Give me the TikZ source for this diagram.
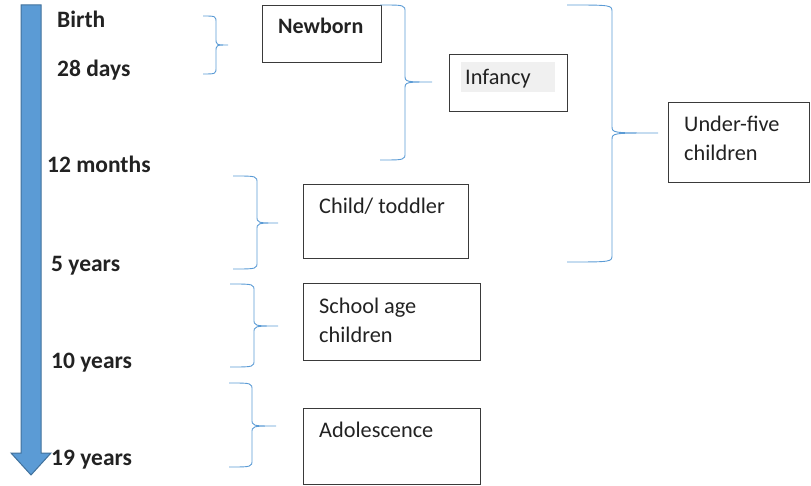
\documentclass[tikz,border=0pt]{standalone}
\usepackage{fontspec}
\setmainfont{Carlito}
\definecolor{arrowfill}{HTML}{5B9BD5}
\definecolor{arrowedge}{HTML}{41719C}
\definecolor{bracecol}{HTML}{5B9BD5}
\definecolor{inkcol}{HTML}{222222}
\definecolor{boxedge}{HTML}{3A3A3A}
\definecolor{hilite}{HTML}{F0F0F0}

% curly bracket: #1 end x, #2 spine x, #3 tip x, #4 top y, #5 tip y, #6 bottom y
\newcommand\agebrace[6]{%
  \draw[bracestyle] (#1,#4) .. controls (#2,#4) .. (#2,#4+7) -- (#2,#5-7)
    .. controls (#2,#5) .. (#3,#5)
    (#3,#5) .. controls (#2,#5) .. (#2,#5+7) -- (#2,#6-7)
    .. controls (#2,#6) .. (#1,#6);}

\begin{document}
\begin{tikzpicture}[x=1pt,y=-1pt,
  bracestyle/.style={draw=bracecol,line width=0.9pt},
  agebox/.style={draw=boxedge,line width=1pt,inner sep=0pt,anchor=north west},
  agelabel/.style={font=\fontsize{23.5}{28}\selectfont\bfseries,text=inkcol,inner sep=0pt,anchor=base west},
  boxtext/.style={font=\fontsize{22.3}{29}\selectfont,text=inkcol,inner sep=0pt,anchor=base west,align=left},
]
\useasboundingbox (0,0) rectangle (811,486);

% timeline arrow
\filldraw[fill=arrowfill,draw=arrowedge,line width=1pt]
  (21,5) -- (41,5) -- (41,453) -- (51,453) -- (31,475) -- (11,453) -- (21,453) -- cycle;

% ages along the timeline
\node[agelabel] (birth)  at (57,28)  {Birth};
\node[agelabel] (days)   at (57,77)  {28 days};
\node[agelabel] (months) at (47,173) {12 months};
\node[agelabel] (five)   at (51,272) {5 years};
\node[agelabel] (ten)    at (51,368) {10 years};
\node[agelabel] (ninet)  at (51,465) {19 years};

% stage boxes
\node[agebox,minimum width=119pt,minimum height=57pt] (newborn) at (262,5) {};
\node[agebox,minimum width=118pt,minimum height=57pt] (infancy) at (449,54) {};
\node[agebox,minimum width=141pt,minimum height=80pt] (underfive) at (668,102) {};
\node[agebox,minimum width=165pt,minimum height=74pt] (toddler) at (303,184) {};
\node[agebox,minimum width=177pt,minimum height=77pt] (school) at (303,283) {};
\node[agebox,minimum width=177pt,minimum height=76pt] (adol) at (303,408) {};

\fill[hilite] (461,62) rectangle (555,92);

\node[boxtext,font=\fontsize{22}{29}\selectfont\bfseries] (tnewborn) at (278,34) {Newborn};
\node[boxtext] (tinfancy) at (465,85) {Infancy};
\node[boxtext] (tunder) at (684,161) {Under-five\\children};
\node[boxtext] (ttoddler) at (319,214) {Child/ toddler};
\node[boxtext] (tschool) at (319,342) {School age\\children};
\node[boxtext] (tadol) at (319,437) {Adolescence};

% brackets grouping the age ranges
\agebrace{203}{216}{228}{16}{45}{74}
\agebrace{380}{405}{432}{5}{82}{160}
\agebrace{567}{612}{658}{5}{133}{262}
\agebrace{233}{257}{278}{176}{223}{269}
\agebrace{230}{254}{278}{284}{326}{367}
\agebrace{229}{252}{276}{383}{426}{467}
\end{tikzpicture}
\end{document}
